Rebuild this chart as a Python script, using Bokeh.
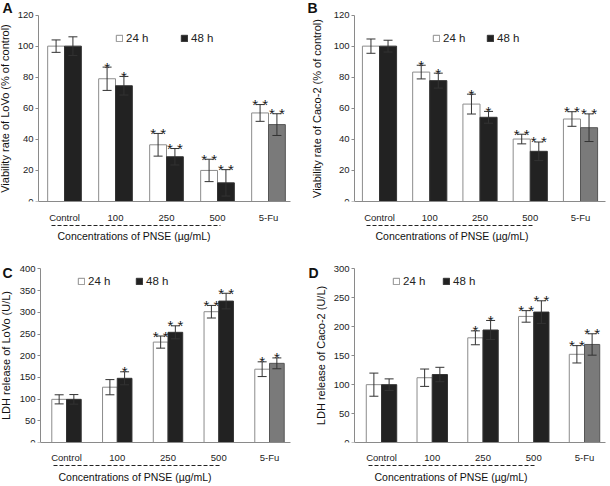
import numpy as np
from bokeh.plotting import figure
from bokeh.models import (Range1d, FixedTicker, Whisker, TeeHead, ColumnDataSource,
                          Legend, LegendItem, Label, LinearAxis, Title)
from bokeh.layouts import gridplot
from bokeh.embed import file_html
from bokeh.resources import INLINE
from bokeh.core.properties import value

# ---------------- data ----------------
groups = ["Control", "100", "250", "500", "5-Fu"]
pnse_groups = ["Control", "100", "250", "500"]   # underlined by the dashed line
x_title = "Concentrations of PNSE (µg/mL)"
series_names = ["24 h", "48 h"]

a_title = "Viability rate of LoVo (% of control)"
a_24 = [100, 79, 36.5, 20, 57]
a_24_err = [4, 7.5, 7.3, 7.2, 5.4]
a_48 = [100, 74.5, 28.8, 12, 49.5]
a_48_err = [6, 6, 5.3, 8.5, 7]
a_24_sig = ["", "*", "* *", "* *", "* *"]
a_48_sig = ["", "*", "* *", "* *", "* *"]
a_ticks = [0, 20, 40, 60, 80, 100, 120]

b_title = "Viability rate of Caco-2 (% of control)"
b_24 = [100, 83.3, 62.7, 40.2, 53.1]
b_24_err = [4.6, 4.4, 6.4, 3.1, 4.7]
b_48 = [100, 77.8, 54.2, 32.3, 47.5]
b_48_err = [3.8, 4.8, 3.8, 6, 8.9]
b_24_sig = ["", "*", "*", "* *", "* *"]
b_48_sig = ["", "*", "*", "* *", "* *"]
b_ticks = [0, 20, 40, 60, 80, 100, 120]

c_title = "LDH release of LoVo (U/L)"
c_24 = [99.5, 127.5, 231.5, 301.5, 169]
c_24_err = [10.5, 17.5, 14, 14.5, 17]
c_48 = [99.5, 148, 254, 326, 182.5]
c_48_err = [11, 15, 15, 18, 12.5]
c_24_sig = ["", "", "* *", "* *", "*"]
c_48_sig = ["", "*", "* *", "* *", "*"]
c_ticks = [0, 50, 100, 150, 200, 250, 300, 350, 400]

d_title = "LDH release of Caco-2 (U/L)"
d_24 = [100, 112, 181, 218, 152.5]
d_24_err = [20, 15, 12, 10, 15]
d_48 = [100, 117.5, 194.5, 225.5, 169.5]
d_48_err = [10, 12.5, 16.5, 19.5, 18.5]
d_24_sig = ["", "", "*", "* *", "* *"]
d_48_sig = ["", "", "*", "* *", "* *"]
d_ticks = [0, 50, 100, 150, 200, 250, 300]

# ---------------- style ----------------
FONT = "Liberation Sans"
BLACK = "#222222"
GRAY = "#7a7a7a"
AXIS = "#8a8a8a"
TXT = "#222222"


def panel(letter, ytitle, v24, e24, v48, e48, s24, s48, ticks,
          width, height, br, bb, top_gap, axis_px, c1_px, sp_px, bar_w,
          leg_xy, leg_lw, letter_xy, lab_so, tit_so, tit_off, ylab_so):
    ymax = ticks[-1]
    frame_h = height - bb
    frame_w = width - br
    plot_h = frame_h - top_gap
    x_start = 1 - c1_px / sp_px
    x_end = x_start + frame_w / sp_px
    x_axis_at = x_start + axis_px / sp_px

    p = figure(width=width, height=height, x_range=Range1d(x_start, x_end),
               y_range=Range1d(0, ymax * frame_h / plot_h), output_backend="svg",
               toolbar_location=None, title=None, min_border_left=0,
               min_border_right=br, min_border_top=0, min_border_bottom=bb)
    p.xgrid.visible = False
    p.ygrid.visible = False
    p.outline_line_color = None

    xs = np.arange(1, len(groups) + 1, dtype=float)
    v24 = np.array(v24, float); e24 = np.array(e24, float)
    v48 = np.array(v48, float); e48 = np.array(e48, float)
    fill48 = [GRAY if g == "5-Fu" else BLACK for g in groups]
    line48 = ["#555555" if g == "5-Fu" else "#333333" for g in groups]

    src24 = ColumnDataSource(dict(x=xs - bar_w / 2, top=v24, up=v24 + e24,
                                  lo=v24 - e24, sig=s24))
    src48 = ColumnDataSource(dict(x=xs + bar_w / 2, top=v48, up=v48 + e48,
                                  lo=v48 - e48, sig=s48, fill=fill48, line=line48))

    r24 = p.vbar(x="x", top="top", bottom=0, width=bar_w, source=src24,
                 fill_color="white", line_color="#8c8c8c", line_width=1)
    r48 = p.vbar(x="x", top="top", bottom=0, width=bar_w, source=src48,
                 fill_color="fill", line_color="line", line_width=1)

    for src in (src24, src48):
        w = Whisker(source=src, base="x", upper="up", lower="lo",
                    line_color="#333333", line_width=1, level="overlay",
                    upper_head=TeeHead(size=9, line_color="#333333", line_width=1),
                    lower_head=TeeHead(size=9, line_color="#333333", line_width=1))
        p.add_layout(w)
        p.text(x="x", y="up", text="sig", source=src, text_align="center",
               text_baseline="alphabetic", y_offset=0,
               text_font=value(FONT), text_font_size="15px", text_color="#1a1a1a")

    # x axis with the group names
    xa = p.xaxis[0]
    xa.ticker = FixedTicker(ticks=list(xs))
    xa.major_label_overrides = {int(i): g for i, g in zip(xs, groups)}
    xa.bounds = (x_axis_at, x_end)
    xa.major_tick_line_color = None
    xa.minor_tick_line_color = None
    xa.major_tick_out = 0
    xa.major_tick_in = 0
    xa.axis_line_color = AXIS
    xa.major_label_text_font = FONT
    xa.major_label_text_font_size = "9.5px"
    xa.major_label_text_color = TXT
    xa.major_label_standoff = lab_so

    # dashed line under the PNSE concentrations (an axis line with bounds)
    x0 = groups.index(pnse_groups[0]) + 1 - 0.25
    x1 = groups.index(pnse_groups[-1]) + 1 + 0.05
    dash_axis = LinearAxis(ticker=FixedTicker(ticks=[], minor_ticks=[]),
                           bounds=(x0, x1), axis_line_color="#222222",
                           axis_line_dash="4 2", axis_line_width=1,
                           major_tick_out=0, major_tick_in=0,
                           minor_tick_out=0, minor_tick_in=0,
                           major_label_standoff=0)
    p.add_layout(dash_axis, "below")

    # x title
    p.add_layout(Title(text=x_title, align="left", offset=tit_off, standoff=tit_so,
                       text_font=FONT, text_font_size="10.5px",
                       text_font_style="normal", text_color="#111111"), "below")

    # y axis, drawn at a fixed x so the frame can reach the canvas edge
    ya = p.yaxis[0]
    ya.fixed_location = x_axis_at
    ya.ticker = FixedTicker(ticks=ticks)
    ya.bounds = (0, ymax)
    ya.minor_tick_line_color = None
    ya.major_tick_out = 3
    ya.major_tick_in = 0
    ya.major_tick_line_color = AXIS
    ya.axis_line_color = AXIS
    ya.major_label_text_font = FONT
    ya.major_label_text_font_size = "9.5px"
    ya.major_label_text_color = TXT
    ya.major_label_standoff = 2
    ya.axis_label = ytitle
    ya.axis_label_text_font = FONT
    ya.axis_label_text_font_size = "11px"
    ya.axis_label_text_font_style = "normal"
    ya.axis_label_text_color = "#111111"
    ya.axis_label_standoff = ylab_so

    # legend
    leg = Legend(items=[LegendItem(label=series_names[0], renderers=[r24], index=0),
                        LegendItem(label=series_names[1], renderers=[r48], index=0)],
                 orientation="horizontal", location=leg_xy,
                 glyph_width=8, glyph_height=8, label_width=leg_lw,
                 label_height=10, label_standoff=3, spacing=0, padding=0,
                 margin=0, border_line_color=None, background_fill_alpha=0,
                 label_text_font=FONT, label_text_font_size="11.5px",
                 label_text_color=TXT)
    p.add_layout(leg)

    # panel letter (frame starts at the canvas' left and top edges)
    p.add_layout(Label(x=letter_xy[0], y=frame_h - letter_xy[1], x_units="screen",
                       y_units="screen", text=letter, text_font=FONT,
                       text_font_size="14px", text_font_style="bold",
                       text_baseline="alphabetic", text_align="left",
                       text_color="#111111"))
    return p


# row 1: height 243, frame bottom at 207, top tick at 15
# row 2: height 242, frame bottom at 203 (page 446), top tick at 26 (page 269)
pA = panel("A", a_title, a_24, a_24_err, a_48, a_48_err, a_24_sig, a_48_sig, a_ticks,
           305, 243, 15, 36, 15, 38, 64, 51, 0.33,
           (115, 157), 54, (2, 13), 10, 4, 57, 4)
pB = panel("B", b_title, b_24, b_24_err, b_48, b_48_err, b_24_sig, b_48_sig, b_ticks,
           304, 243, 4, 36, 15, 49, 74, 50.25, 0.34,
           (127, 157), 43, (2, 13), 10, 4, 70, 8)
pC = panel("C", c_title, c_24, c_24_err, c_48, c_48_err, c_24_sig, c_48_sig, c_ticks,
           305, 242, 15, 39, 26, 40, 66, 50.75, 0.29,
           (77, 155), 47, (2, 33), 9, 6, 58, 5)
pD = panel("D", d_title, d_24, d_24_err, d_48, d_48_err, d_24_sig, d_48_sig, d_ticks,
           304, 242, 4, 39, 26, 49, 76, 50.75, 0.3,
           (87, 155), 39, (3, 33), 9, 6, 69, 4)

grid = gridplot([[pA, pB], [pC, pD]], toolbar_location=None)
open("out.html", "w").write(file_html(grid, INLINE))
